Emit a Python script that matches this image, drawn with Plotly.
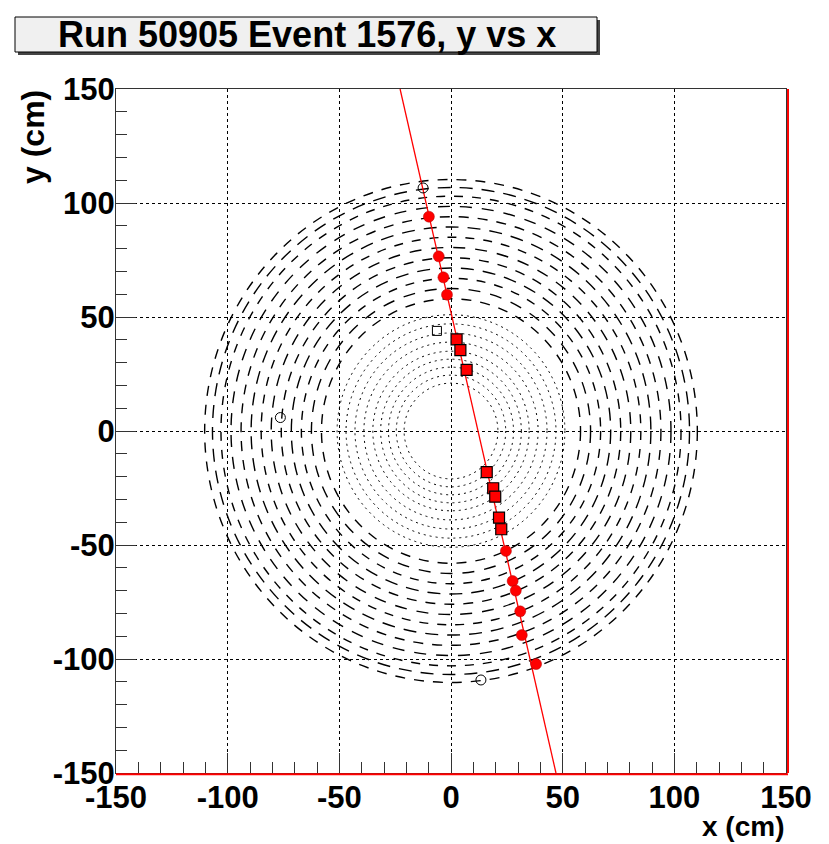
import plotly.graph_objects as go

# ---------------- data ----------------
title_text = "Run 50905 Event 1576, y vs x"
tick_vals = [-150, -100, -50, 0, 50, 100, 150]
tick_text = ["-150", "-100", "-50", "0", "50", "100", "150"]

# fitted track (red line), end points in cm
fit_x = [-22.8, 47.0]
fit_y = [150.0, -150.0]

# hits on the track (outer tracker, red circles)
hit_circ_x = [-9.9, -5.5, -3.4, -1.8, 24.6, 27.6, 29.0, 31.0, 31.7, 38.1]
hit_circ_y = [94.0, 76.6, 67.4, 59.8, -52.6, -65.8, -70.0, -79.1, -89.5, -102.2]

# hits on the track (inner tracker, red squares)
hit_sq_x = [2.5, 4.2, 7.0, 16.0, 18.9, 19.8, 21.5, 22.5]
hit_sq_y = [40.2, 35.5, 26.8, -18.0, -25.1, -28.8, -38.0, -43.1]

# unassociated hits (open black markers)
free_circ_x = [-12.5, -76.4, 13.4]
free_circ_y = [106.6, 5.9, -109.2]
free_sq_x = [-6.3]
free_sq_y = [43.9]

# detector layer radii (cm)
inner_radii = [21.0, 24.5, 28.0, 31.5, 35.0, 39.0, 43.0, 47.0, 51.0]
outer_radii = [58.0, 62.5, 67.0, 71.5, 76.0, 80.5, 85.0, 89.5, 94.0, 98.5, 103.0, 106.8, 110.3]

# ---------------- figure ----------------
fig = go.Figure()

shapes = []
for r in inner_radii:
    shapes.append(dict(type="circle", xref="x", yref="y", x0=-r, x1=r, y0=-r, y1=r,
                       line=dict(color="black", width=1, dash="2px,4px"), layer="below"))
outer_dashes = ["10px,9px", "12px,10px", "9px,9px", "13px,9px"]
for i, r in enumerate(outer_radii):
    d = outer_dashes[i % len(outer_dashes)]
    shapes.append(dict(type="circle", xref="x", yref="y", x0=-r, x1=r, y0=-r, y1=r,
                       line=dict(color="black", width=1.4, dash=d), layer="below"))

# red frame edges (right & bottom)
shapes.append(dict(type="line", xref="paper", yref="paper", x0=1.003, x1=1.003, y0=0, y1=1,
                   line=dict(color="red", width=2)))
shapes.append(dict(type="line", xref="paper", yref="paper", x0=0, x1=1.003, y0=-0.002, y1=-0.002,
                   line=dict(color="red", width=2)))

# title box (shadow + box)
W, H = 829, 844
L, R, T, B = 116, 43, 89, 71
pw, ph = W - L - R, H - T - B
def px2x(px):
    return (px - L) / pw
def py2y(py):
    return (H - B - py) / ph

shapes.append(dict(type="rect", xref="paper", yref="paper",
                   x0=px2x(18), x1=px2x(600), y0=py2y(55), y1=py2y(20),
                   fillcolor="#444444", line=dict(width=0), layer="above"))
shapes.append(dict(type="rect", xref="paper", yref="paper",
                   x0=px2x(15), x1=px2x(597), y0=py2y(52), y1=py2y(17),
                   fillcolor="#f0f0f0", line=dict(color="black", width=1), layer="above"))

fig.add_trace(go.Scatter(x=fit_x, y=fit_y, mode="lines",
                         line=dict(color="red", width=1.3), hoverinfo="skip"))
fig.add_trace(go.Scatter(x=free_circ_x, y=free_circ_y, mode="markers",
                         marker=dict(symbol="circle-open", size=10, color="black",
                                     line=dict(width=1, color="black"))))
fig.add_trace(go.Scatter(x=free_sq_x, y=free_sq_y, mode="markers",
                         marker=dict(symbol="square-open", size=9, color="black",
                                     line=dict(width=1, color="black"))))
fig.add_trace(go.Scatter(x=hit_circ_x, y=hit_circ_y, mode="markers",
                         marker=dict(symbol="circle", size=11, color="red",
                                     line=dict(width=0.5, color="#aa0000"))))
fig.add_trace(go.Scatter(x=hit_sq_x, y=hit_sq_y, mode="markers",
                         marker=dict(symbol="square", size=11, color="red",
                                     line=dict(width=1.2, color="black"))))

tickfont = dict(family="Liberation Sans", size=31, color="black", weight="bold")
axis_common = dict(
    showline=True, linecolor="#333333", linewidth=1, mirror=True,
    ticks="inside", ticklen=20, tickwidth=1, tickcolor="#333333",
    tickmode="array", tickvals=tick_vals, ticktext=tick_text,
    minor=dict(tickmode="linear", dtick=10, tick0=0, ticks="inside", ticklen=11,
               tickwidth=1, tickcolor="#333333", showgrid=False),
    showgrid=True, gridcolor="black", griddash="dot", gridwidth=1,
    zeroline=False, tickfont=tickfont, fixedrange=True,
)
fig.update_xaxes(range=[-150, 150], ticklabelstandoff=-3, **axis_common)
fig.update_yaxes(range=[-150, 150], ticklabelstandoff=-6, **axis_common)

annotations = [
    dict(text=title_text, xref="paper", yref="paper", x=px2x(307), y=py2y(35),
         xanchor="center", yanchor="middle", showarrow=False,
         font=dict(family="Liberation Sans", size=36, color="black", weight="bold")),
    dict(text="x (cm)", xref="paper", yref="paper", x=px2x(786), y=py2y(826),
         xanchor="right", yanchor="middle", showarrow=False,
         font=dict(family="Liberation Sans", size=28, color="black", weight="bold")),
    dict(text="y (cm)", xref="paper", yref="paper", x=px2x(33), y=py2y(88),
         xanchor="center", yanchor="top", textangle=-90, showarrow=False,
         font=dict(family="Liberation Sans", size=32, color="black", weight="bold")),
]

fig.update_layout(
    width=W, height=H,
    margin=dict(l=L, r=R, t=T, b=B, pad=0),
    paper_bgcolor="white", plot_bgcolor="white",
    showlegend=False,
    shapes=shapes, annotations=annotations,
)

fig.write_html("out.html")
